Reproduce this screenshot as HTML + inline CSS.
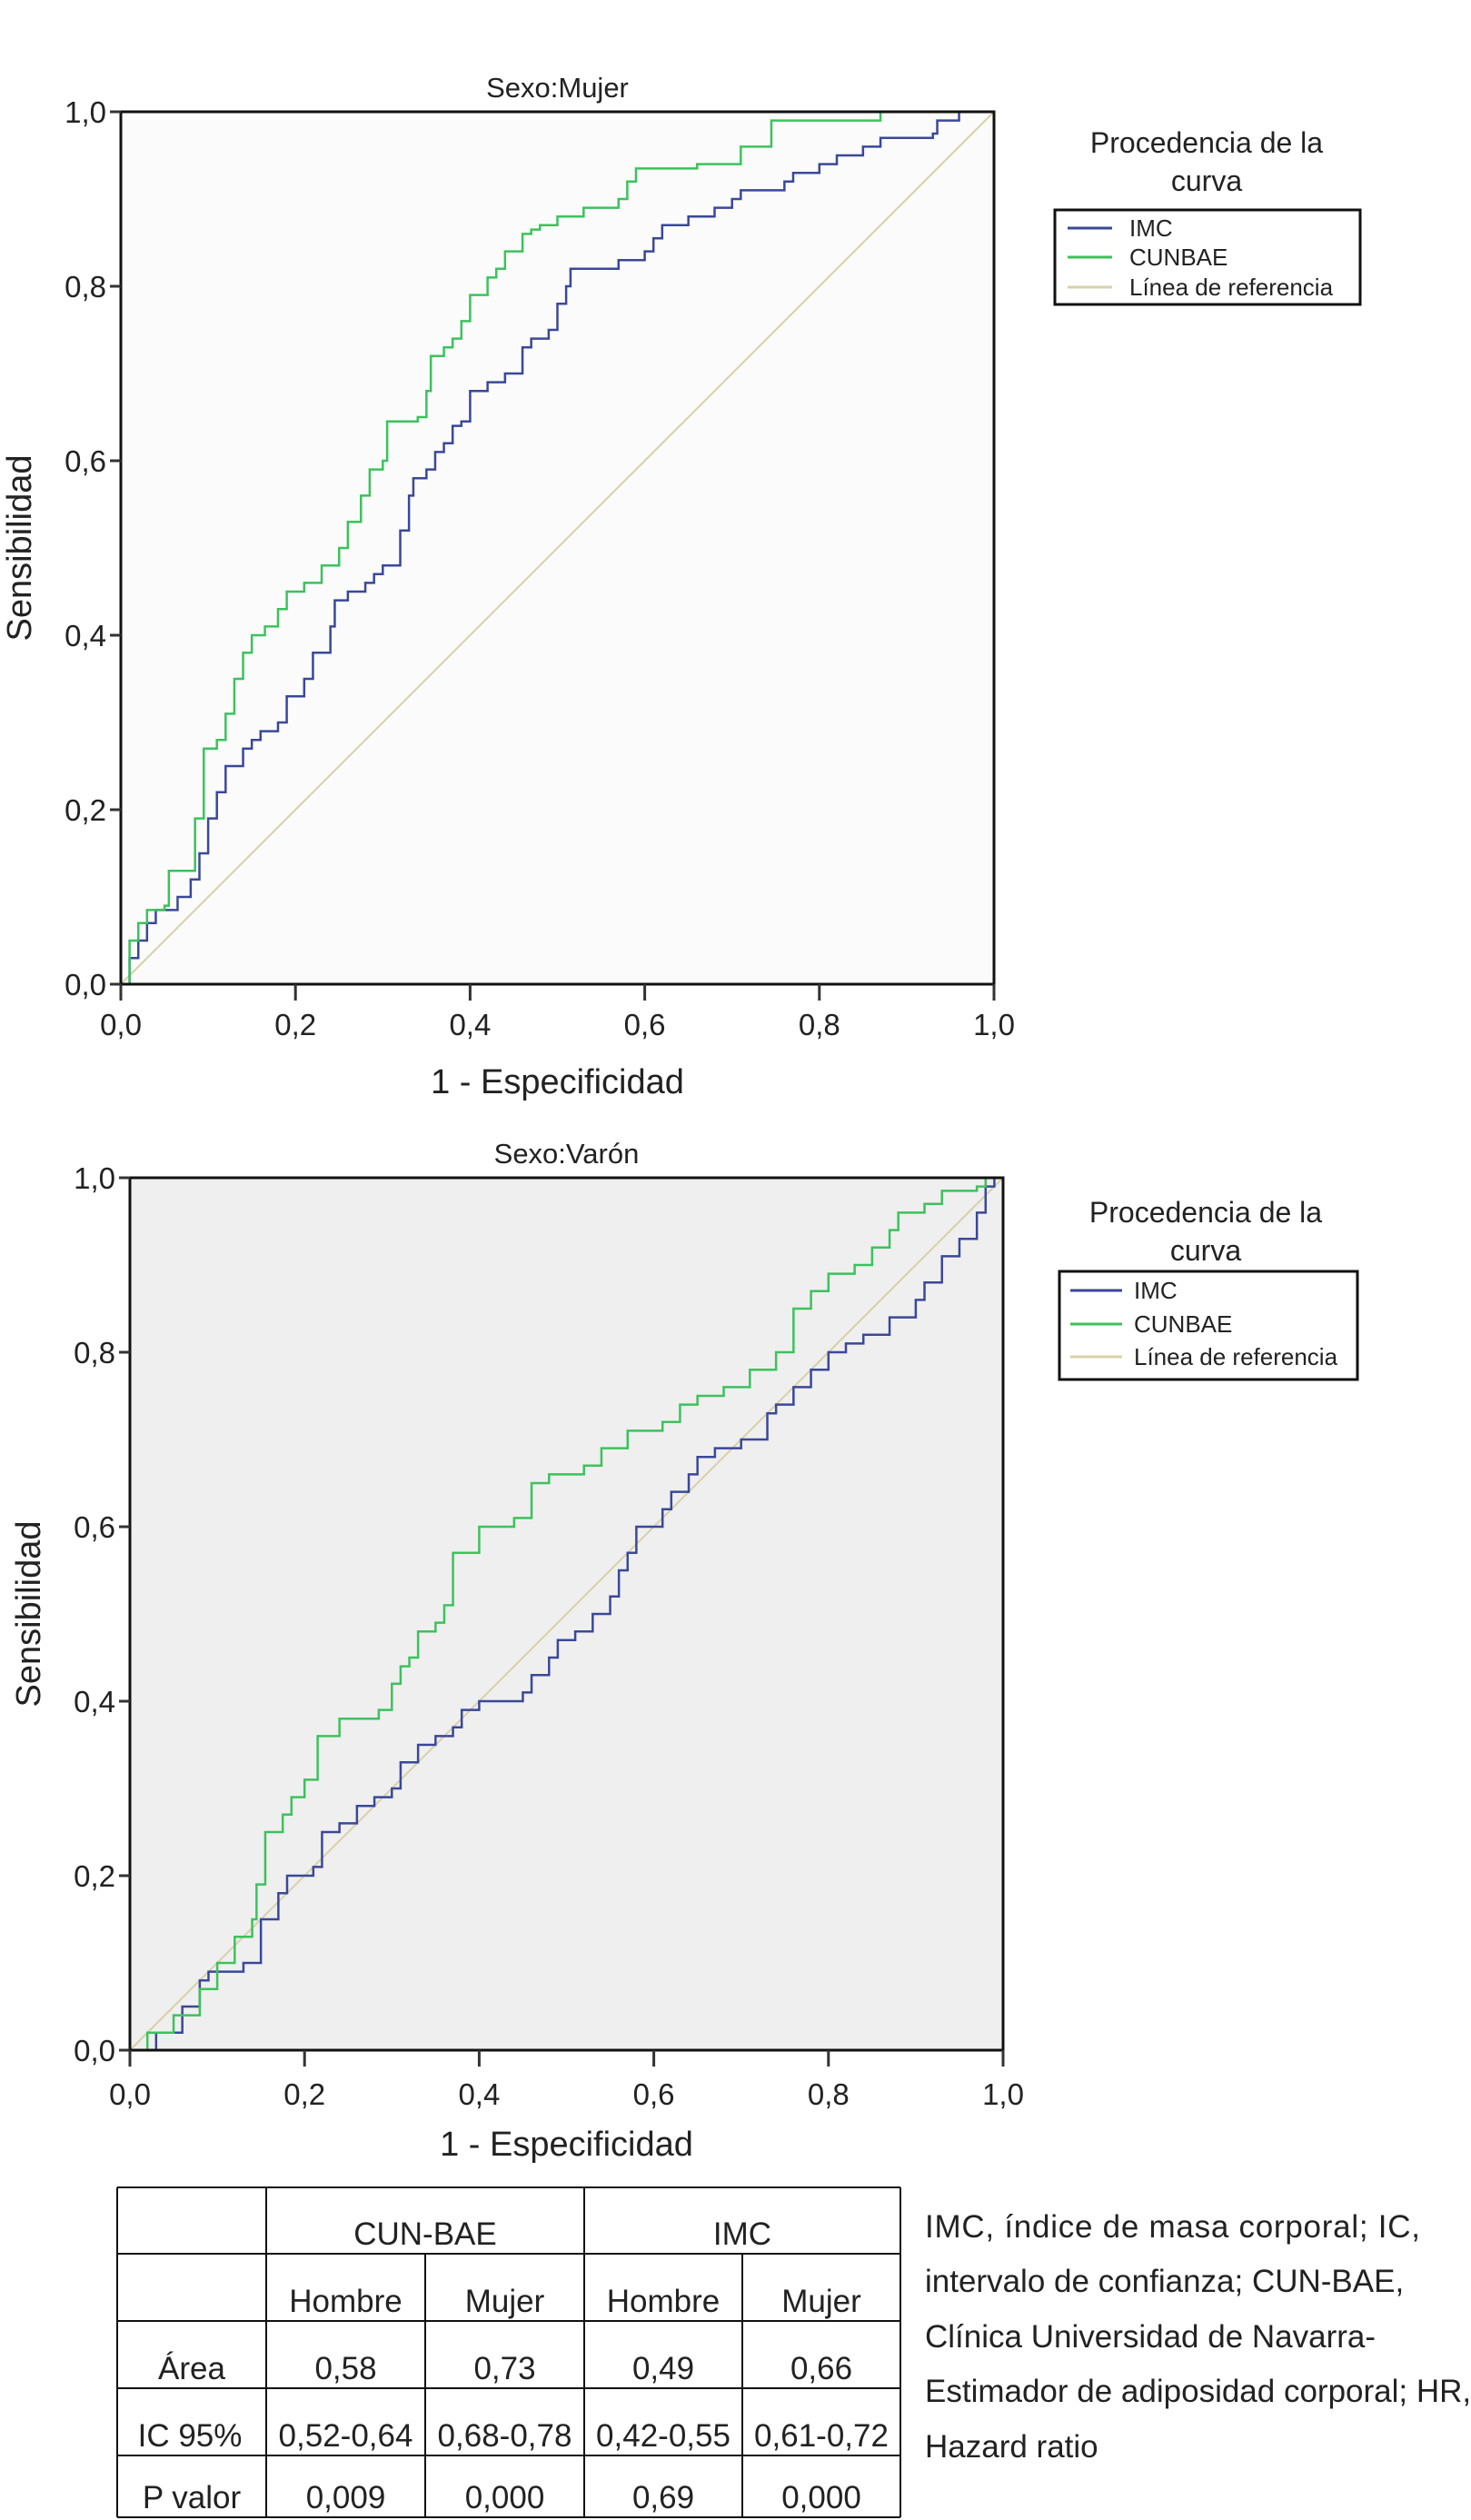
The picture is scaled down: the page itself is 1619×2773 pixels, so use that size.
<!DOCTYPE html>
<html><head><meta charset="utf-8"><style>
html,body{margin:0;padding:0;background:#fff;}
svg{display:block;font-family:"Liberation Sans",sans-serif;}
</style></head><body>
<svg id="svg" width="1619" height="2773" viewBox="0 0 1619 2773" xmlns="http://www.w3.org/2000/svg">
<g id="c1"></g>
<g id="c2"></g>
<g id="tbl"></g>
<g font-size="35" fill="#222">
<text x="1018" y="2462" textLength="545" lengthAdjust="spacing">IMC,  índice  de  masa  corporal;  IC,</text>
<text x="1018" y="2522">intervalo de confianza; CUN-BAE,</text>
<text x="1018" y="2583">Clínica Universidad de Navarra-</text>
<text x="1018" y="2643">Estimador de adiposidad corporal; HR,</text>
<text x="1018" y="2704">Hazard ratio</text>
</g>
</svg>
<script>
const ticks=["0,0","0,2","0,4","0,6","0,8","1,0"];
const tickVals=[0,0.2,0.4,0.6,0.8,1.0];
// Chart 1 (Mujer)
const m_cun_x=[0,0.01,0.02,0.03,0.05,0.055,0.075,0.085,0.095,0.11,0.12,0.13,0.14,0.15,0.165,0.18,0.19,0.21,0.23,0.25,0.26,0.275,0.285,0.30,0.305,0.34,0.35,0.355,0.37,0.38,0.39,0.40,0.42,0.43,0.44,0.46,0.47,0.48,0.50,0.53,0.57,0.58,0.59,0.66,0.71,0.745,0.87,1];
const m_cun_y=[0,0.05,0.07,0.085,0.09,0.13,0.13,0.19,0.27,0.28,0.31,0.35,0.38,0.40,0.41,0.43,0.45,0.46,0.48,0.50,0.53,0.56,0.59,0.60,0.645,0.65,0.68,0.72,0.73,0.74,0.76,0.79,0.81,0.82,0.84,0.86,0.865,0.87,0.88,0.89,0.90,0.92,0.935,0.94,0.96,0.99,1,1];
const m_imc_x=[0,0.01,0.02,0.03,0.04,0.06,0.065,0.08,0.09,0.10,0.11,0.12,0.14,0.15,0.16,0.18,0.19,0.21,0.22,0.24,0.245,0.26,0.28,0.29,0.30,0.32,0.33,0.335,0.35,0.36,0.37,0.38,0.39,0.40,0.42,0.44,0.46,0.47,0.49,0.50,0.51,0.515,0.57,0.60,0.61,0.62,0.65,0.68,0.70,0.71,0.76,0.77,0.80,0.82,0.85,0.87,0.93,0.935,0.96,1];
const m_imc_y=[0,0.03,0.05,0.07,0.085,0.085,0.10,0.12,0.15,0.19,0.22,0.25,0.27,0.28,0.29,0.30,0.33,0.35,0.38,0.41,0.44,0.45,0.46,0.47,0.48,0.52,0.56,0.58,0.59,0.61,0.62,0.64,0.645,0.68,0.69,0.70,0.73,0.74,0.75,0.78,0.80,0.82,0.83,0.84,0.855,0.87,0.88,0.89,0.90,0.91,0.92,0.93,0.94,0.95,0.96,0.97,0.975,0.99,1,1];
// Chart 2 (Varón)
const v_cun_x=[0,0.02,0.05,0.08,0.10,0.12,0.14,0.145,0.155,0.17,0.175,0.185,0.20,0.215,0.24,0.285,0.30,0.31,0.32,0.33,0.35,0.36,0.37,0.40,0.44,0.46,0.48,0.52,0.54,0.57,0.61,0.63,0.65,0.68,0.71,0.74,0.76,0.78,0.80,0.83,0.85,0.87,0.88,0.91,0.93,0.97,0.98,1];
const v_cun_y=[0,0.02,0.04,0.07,0.10,0.13,0.15,0.19,0.25,0.25,0.27,0.29,0.31,0.36,0.38,0.39,0.42,0.44,0.45,0.48,0.49,0.51,0.57,0.60,0.61,0.65,0.66,0.67,0.69,0.71,0.72,0.74,0.75,0.76,0.78,0.80,0.85,0.87,0.89,0.90,0.92,0.94,0.96,0.97,0.985,0.99,1,1];
const v_imc_x=[0.01,0.03,0.06,0.08,0.09,0.13,0.15,0.17,0.18,0.21,0.22,0.24,0.26,0.28,0.30,0.31,0.33,0.35,0.37,0.38,0.40,0.42,0.45,0.46,0.48,0.49,0.51,0.53,0.55,0.56,0.57,0.58,0.61,0.62,0.64,0.65,0.67,0.70,0.73,0.74,0.76,0.78,0.80,0.82,0.84,0.87,0.90,0.91,0.93,0.95,0.97,0.98,0.99,1];
const v_imc_y=[0,0.02,0.05,0.08,0.09,0.10,0.15,0.18,0.20,0.21,0.25,0.26,0.28,0.29,0.30,0.33,0.35,0.36,0.37,0.39,0.40,0.40,0.41,0.43,0.45,0.47,0.48,0.50,0.52,0.55,0.57,0.60,0.62,0.64,0.66,0.68,0.69,0.70,0.73,0.74,0.76,0.78,0.80,0.81,0.82,0.84,0.86,0.88,0.91,0.93,0.96,0.99,1,1];
// Table
const colHeads=["CUN-BAE","IMC"];
const subHeads=["Hombre","Mujer","Hombre","Mujer"];
const rowLabels=["Área","IC 95%","P valor"];
const rowVals=[["0,58","0,73","0,49","0,66"],["0,52-0,64","0,68-0,78","0,42-0,55","0,61-0,72"],["0,009","0,000","0,69","0,000"]];

const NS="http://www.w3.org/2000/svg";
function mk(parent,tag,attrs,txt){const e=document.createElementNS(NS,tag);for(const k in attrs)e.setAttribute(k,attrs[k]);if(txt!==undefined)e.textContent=txt;parent.appendChild(e);return e;}

function chart(g,o){
  const sx=v=>o.L+v*(o.R-o.L), sy=v=>o.B-v*(o.B-o.T);
  const bg=mk(g,'rect',{x:o.L,y:o.T,width:o.R-o.L,height:o.B-o.T,fill:o.bg});
  
  
  const ref=mk(g,'line',{x1:sx(0),y1:sy(0),x2:sx(1),y2:sy(1),stroke:'#d8d0a8','stroke-width':2});
  
  
  function step(xs,ys,col,name){
    let d='M'+sx(xs[0])+' '+sy(ys[0]);
    for(let i=1;i<xs.length;i++){d+=' L'+sx(xs[i])+' '+sy(ys[i-1])+' L'+sx(xs[i])+' '+sy(ys[i]);}
    const p=mk(g,'path',{d:d,fill:'none',stroke:col,'stroke-width':2.5});
    
    
  }
  step(o.ix,o.iy,'#3a4899','imc-curve');
  step(o.cx,o.cy,'#3cc25c','cunbae-curve');
  mk(g,'rect',{x:o.L,y:o.T,width:o.R-o.L,height:o.B-o.T,fill:'none',stroke:'#111','stroke-width':3});
  tickVals.forEach((v,i)=>{
    mk(g,'line',{x1:o.L-12,y1:sy(v),x2:o.L,y2:sy(v),stroke:'#333','stroke-width':3});
    const t=mk(g,'text',{x:o.L-16,y:sy(v)+12,'text-anchor':'end','font-size':33,fill:'#222'},ticks[i]);
    
    
    mk(g,'line',{x1:sx(v),y1:o.B,x2:sx(v),y2:o.B+18,stroke:'#333','stroke-width':3});
    const u=mk(g,'text',{x:sx(v),y:o.xl,'text-anchor':'middle','font-size':33,fill:'#222'},ticks[i]);
    
    
  });
  const ti=mk(g,'text',{x:(o.L+o.R)/2,y:o.ty,'text-anchor':'middle','font-size':31,fill:'#222'},o.title);
  
  
  const xt=mk(g,'text',{x:(o.L+o.R)/2,y:o.xty,'text-anchor':'middle','font-size':38,fill:'#222'},'1 - Especificidad');
  
  
  const yc=(o.T+o.B)/2;
  const yt=mk(g,'text',{x:o.ytx,y:yc,'text-anchor':'middle','font-size':38,fill:'#222',transform:'rotate(-90 '+o.ytx+' '+yc+')'},'Sensibilidad');
  
  
  const lg=mk(g,'g',{});
  
  
  mk(lg,'text',{x:o.lcx,y:o.lt1,'text-anchor':'middle','font-size':32,fill:'#222'},'Procedencia de la');
  mk(lg,'text',{x:o.lcx,y:o.lt2,'text-anchor':'middle','font-size':32,fill:'#222'},'curva');
  mk(lg,'rect',{x:o.bx1,y:o.by1,width:o.bx2-o.bx1,height:o.by2-o.by1,fill:'#fff',stroke:'#111','stroke-width':3});
  const items=[['IMC','#3a4899'],['CUNBAE','#3cc25c'],['Línea de referencia','#d8d0a8']];
  items.forEach((it,i)=>{
    const y=o.ey[i];
    mk(lg,'line',{x1:o.lx1,y1:y,x2:o.lx2,y2:y,stroke:it[1],'stroke-width':3});
    const t=mk(lg,'text',{x:o.tx,y:y+9,'font-size':26,fill:'#222'},it[0]);
    
    
  });
}
chart(document.getElementById('c1'),{L:133,R:1094,T:123,B:1083,bg:'#fbfbfb',cx:m_cun_x,cy:m_cun_y,ix:m_imc_x,iy:m_imc_y,
  title:'Sexo:Mujer',ty:107,xl:1139,xty:1203,ytx:34,lcx:1328,lt1:168,lt2:210,bx1:1161,bx2:1497,by1:231,by2:335,ey:[251,283,316],lx1:1175,lx2:1224,tx:1243});
chart(document.getElementById('c2'),{L:143,R:1104,T:1296,B:2256,bg:'#efefef',cx:v_cun_x,cy:v_cun_y,ix:v_imc_x,iy:v_imc_y,
  title:'Sexo:Varón',ty:1280,xl:2316,xty:2372,ytx:44,lcx:1327,lt1:1345,lt2:1387,bx1:1166,bx2:1494,by1:1399,by2:1518,ey:[1420,1457,1493],lx1:1178,lx2:1235,tx:1248});

(function(){
  const g=document.getElementById('tbl');
  const xs=[129,293,643,991], xc=[129,293,468,643,817,991];
  const ys=[2407,2480,2554,2628,2702,2770];
  const s={stroke:'#111','stroke-width':2};
  ys.forEach(y=>mk(g,'line',Object.assign({x1:129,y1:y,x2:991,y2:y},s)));
  [129,293,643,991].forEach(x=>mk(g,'line',Object.assign({x1:x,y1:ys[0],x2:x,y2:ys[5]},s)));
  [468,817].forEach(x=>mk(g,'line',Object.assign({x1:x,y1:ys[1],x2:x,y2:ys[5]},s)));
  const fs=35;
  colHeads.forEach((h,i)=>{const t=mk(g,'text',{x:(xs[i+1]+xs[i+2])/2,y:ys[1]-10,'text-anchor':'middle','font-size':fs,fill:'#222'},h);
    });
  subHeads.forEach((h,i)=>{const t=mk(g,'text',{x:(xc[i+1]+xc[i+2])/2,y:ys[2]-10,'text-anchor':'middle','font-size':fs,fill:'#222'},h);
    });
  rowLabels.forEach((r,j)=>{
    const t=mk(g,'text',{x:(xc[0]+xc[1])/2+(j==1?-2:0),y:ys[j+3]-10,'text-anchor':'middle','font-size':fs,fill:'#222'},r);
    
    rowVals[j].forEach((v,i)=>{const c=mk(g,'text',{x:(xc[i+1]+xc[i+2])/2,y:ys[j+3]-10,'text-anchor':'middle','font-size':fs,fill:'#222'},v);
      });
  });
})();
</script>
</body></html>
